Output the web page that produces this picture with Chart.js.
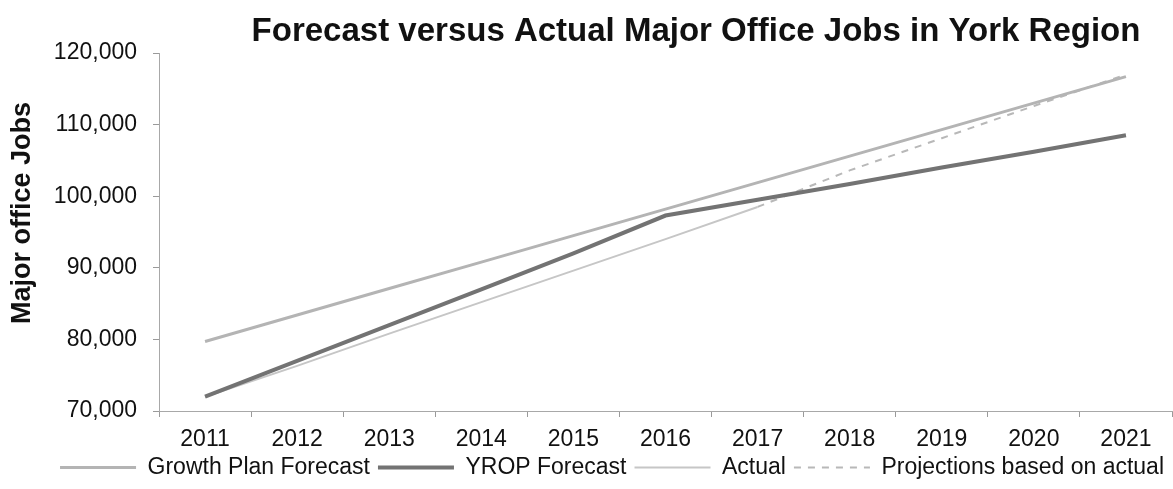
<!DOCTYPE html>
<html>
<head>
<meta charset="utf-8">
<script src="https://cdn.jsdelivr.net/npm/chart.js@4/dist/chart.umd.min.js"></script>
<style>
  html, body { margin: 0; padding: 0; background: #fff; }
  #wrap { width: 1173px; height: 489px; position: relative; }
</style>
</head>
<body>
<div id="wrap"><canvas id="jobsChart"></canvas></div>
<script>
// years and job counts
const years = ['2011', '2012', '2013', '2014', '2015', '2016', '2017', '2018', '2019', '2020', '2021'];
const growthPlan = [79700, 83400, 87100, 90800, 94500, 98200, 101900, 105600, 109300, 113000, 116700];
const yropForecast = [72000, 77000, 82000, 87000, 92000, 97300, 99500, 101700, 104000, 106200, 108500];
const actual = [72000, 76300, 80800, 85200, 89600, 94000, 98500, null, null, null, null];
const projections = [null, null, null, null, null, null, 98500, 103600, 108100, 112600, 117000];
const yTicks = [70000, 80000, 90000, 100000, 110000, 120000];

const FONT = "'Liberation Sans', Arial, sans-serif";

// chart title and the rotated y-axis caption
const captions = {
  id: 'captions',
  afterDraw(chart) {
    const ctx = chart.ctx;
    ctx.save();
    ctx.fillStyle = '#111';
    ctx.textAlign = 'center';
    ctx.textBaseline = 'middle';
    ctx.font = 'bold 33px ' + FONT;
    ctx.fillText('Forecast versus Actual Major Office Jobs in York Region', 696, 32);
    ctx.translate(23, 213);
    ctx.rotate(-Math.PI / 2);
    ctx.font = 'bold 27px ' + FONT;
    ctx.fillText('Major office Jobs', 0, 0);
    ctx.restore();
  }
};

const ctx = document.getElementById('jobsChart');
new Chart(ctx, {
  type: 'line',
  data: {
    labels: years,
    datasets: [
      { label: 'Growth Plan Forecast', data: growthPlan, borderColor: '#b4b4b4', borderWidth: 3 },
      { label: 'YROP Forecast', data: yropForecast, borderColor: '#737373', borderWidth: 4 },
      { label: 'Actual', data: actual, borderColor: '#c6c6c6', borderWidth: 2 },
      { label: 'Projections based on actual', data: projections, borderColor: '#b8b8b8', borderWidth: 2, borderDash: [7, 7] }
    ]
  },
  options: {
    responsive: true,
    maintainAspectRatio: false,
    animation: false,
    elements: { point: { radius: 0 }, line: { tension: 0 } },
    layout: { padding: { top: 53, right: 1, left: 0, bottom: 0 } },
    plugins: {
      title: { display: false },
      tooltip: { enabled: false },
      legend: {
        position: 'bottom',
        align: 'end',
        labels: {
          usePointStyle: true,
          pointStyle: 'line',
          pointStyleWidth: 76,
          boxHeight: 10,
          padding: 8,
          color: '#111',
          font: { family: FONT, size: 23 },
          // keep each dataset's own dash and width in the legend sample
          generateLabels(chart) {
            const items = Chart.defaults.plugins.legend.labels.generateLabels(chart);
            items.forEach(item => {
              const ds = chart.data.datasets[item.datasetIndex];
              item.lineDash = ds.borderDash || [];
              item.lineWidth = ds.borderWidth;
              item.strokeStyle = ds.borderColor;
            });
            return items;
          }
        }
      }
    },
    scales: {
      x: {
        offset: true,
        grid: { offset: true, drawOnChartArea: false, drawTicks: true, tickLength: 6, color: '#9a9a9a' },
        border: { color: '#a8a8a8', width: 1 },
        ticks: { color: '#111', padding: 9, font: { family: FONT, size: 23 }, maxRotation: 0 },
        afterFit(scale) { scale.height = 37; }
      },
      y: {
        min: 70000,
        max: 120000,
        afterBuildTicks(scale) { scale.ticks = yTicks.map(v => ({ value: v })); },
        grid: { drawOnChartArea: false, drawTicks: true, tickLength: 6, color: '#9a9a9a' },
        border: { color: '#a8a8a8', width: 1 },
        ticks: {
          color: '#111',
          padding: 16,
          font: { family: FONT, size: 23 },
          callback: v => v.toLocaleString('en-US')
        },
        afterFit(scale) { scale.width = 159; }
      }
    }
  },
  plugins: [captions]
});
</script>
</body>
</html>
